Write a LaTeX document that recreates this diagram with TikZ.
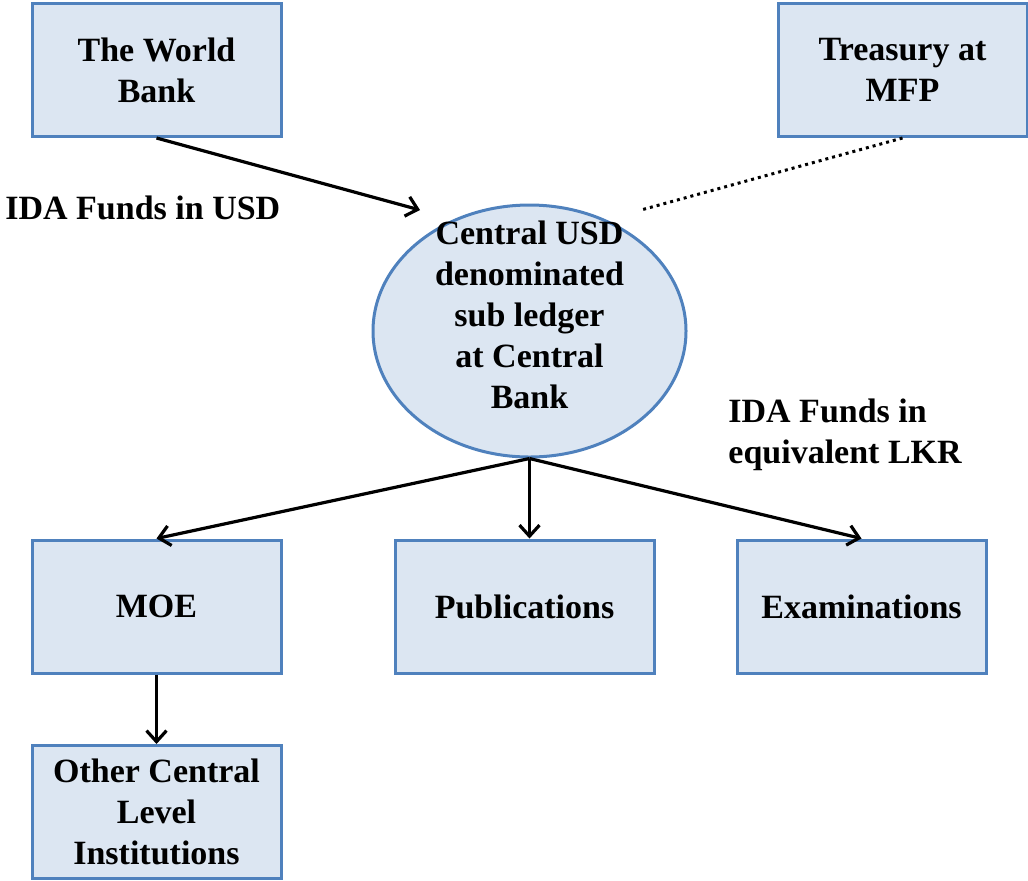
\documentclass[tikz,border=0pt]{standalone}
\usepackage{fontspec}
\setmainfont{Liberation Serif}
\usetikzlibrary{shapes.geometric,arrows.meta}
\definecolor{boxfill}{HTML}{DCE6F2}
\definecolor{boxline}{HTML}{4F81BD}
\tikzset{
  fund/.style={draw=boxline,fill=boxfill,line width=1.5pt,
    minimum width=124.5pt,minimum height=66.5pt,inner sep=2pt,
    align=center,font=\bfseries\fontsize{17}{20.5}\selectfont},
  ledger/.style={fund,ellipse,minimum width=156.5pt,minimum height=126pt,
    text depth=16pt,inner sep=-10.5pt},
  fundnote/.style={anchor=west,align=left,inner sep=0pt,
    font=\bfseries\fontsize{17}{20.5}\selectfont},
  flow/.style={line width=1.6pt,-{Straight Barb[length=5.5pt,width=10pt,line width=1.6pt]}}
}
\begin{document}
\begin{tikzpicture}[x=0.5pt,y=-0.5pt]
      \useasboundingbox (0,0) rectangle (1028,880);
      \draw
        (156.5,70) node[fund] (wb){The World\\Bank}
        (902.5,70) node[fund] (tr){Treasury at\\MFP}
        (529.5,331) node[ledger] (cb){Central USD\\denominated\\sub ledger\\at Central\\Bank}
        (156.5,606.5) node[fund] (moe){MOE}
        (524.5,606.5) node[fund,minimum width=129.5pt] (pub){Publications}
        (861.5,606.5) node[fund] (exam){Examinations}
        (156.5,812) node[fund] (oth){Other Central\\Level\\Institutions};
      \draw
        (5,208) node[fundnote] (usd){IDA Funds in USD}
        (728,435) node[fundnote] (lkr){IDA Funds in\\equivalent LKR};
      \coordinate (wbtip) at (420,210);
      \coordinate (trend) at (641,210);
      \begin{scope}[flow]
        \draw (wb.south) to (wbtip);
        \draw (cb.south) to (moe.north);
        \draw (cb.south) to (cb.south |- pub.north);
        \draw (cb.south) to (exam.north);
        \draw (moe.south) to (oth.north);
      \end{scope}
      \draw[line width=1.5pt,dotted] (tr.south) to (trend);
    \end{tikzpicture}
\end{document}
